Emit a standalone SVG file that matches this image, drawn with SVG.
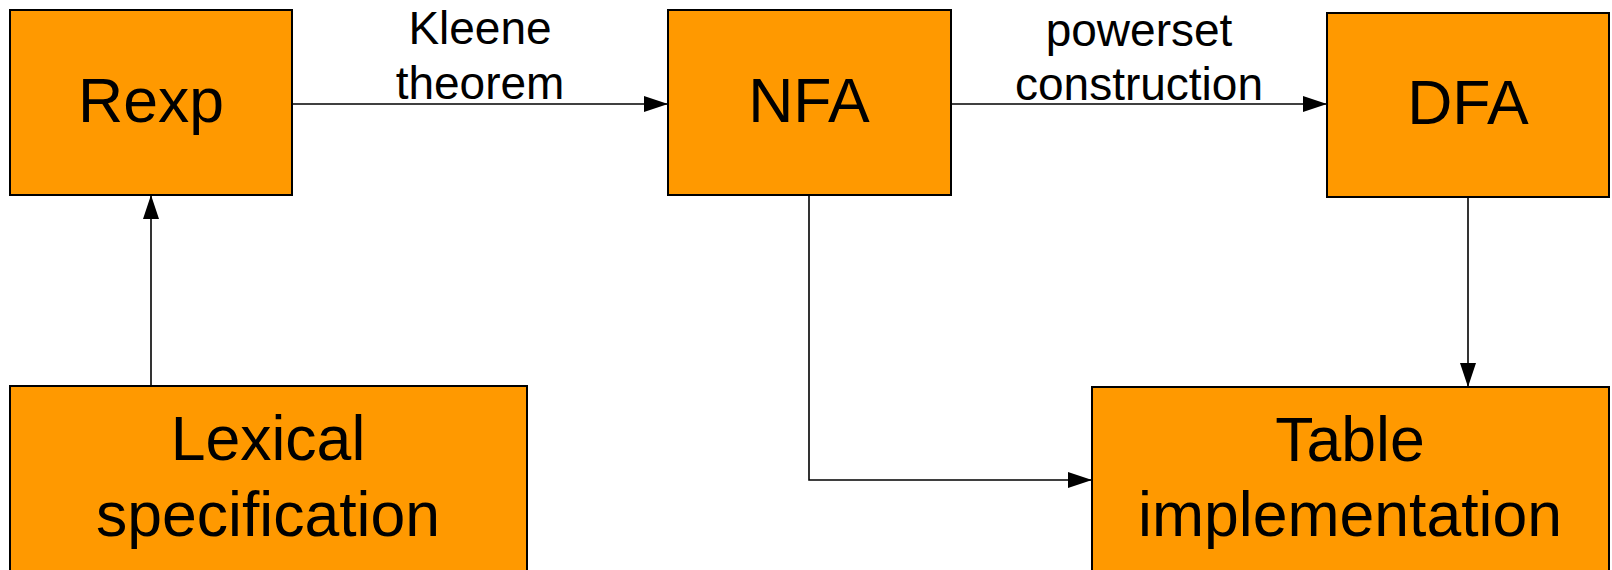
<svg xmlns="http://www.w3.org/2000/svg" width="1612" height="570" viewBox="0 0 1612 570">
  <style>
    .box { fill: #FF9900; stroke: #000000; stroke-width: 2; }
    .big { font-family: "Liberation Sans", Arial, sans-serif; font-size: 62.5px; fill: #000000; text-anchor: middle; }
    .lbl { font-family: "Liberation Sans", Arial, sans-serif; font-size: 46px; fill: #000000; text-anchor: middle; }
    .edge { fill: none; stroke: #000000; stroke-width: 1.6; }
  </style>
  <defs>
    <marker id="arrow" viewBox="0 0 24 16" refX="24" refY="8" markerWidth="24" markerHeight="16" markerUnits="userSpaceOnUse" orient="auto">
      <path d="M0,0 L24,8 L0,16 Z" fill="#000000"/>
    </marker>
  </defs>

  <rect width="1612" height="570" fill="#FFFFFF"/>

  <!-- connectors -->
  <g id="connectors">
    <path class="edge" d="M292,104 L668,104" marker-end="url(#arrow)"/>
    <path class="edge" d="M951,104 L1327,104" marker-end="url(#arrow)"/>
    <path class="edge" d="M151,386 L151,195" marker-end="url(#arrow)"/>
    <path class="edge" d="M809,195 L809,480 L1092,480" marker-end="url(#arrow)"/>
    <path class="edge" d="M1468,197 L1468,387" marker-end="url(#arrow)"/>
    <text class="lbl" x="480" y="44">Kleene</text>
    <text class="lbl" x="480" y="99">theorem</text>
    <text class="lbl" x="1139" y="46">powerset</text>
    <text class="lbl" x="1139" y="100">construction</text>
  </g>

  <!-- nodes -->
  <g id="rexp">
    <rect class="box" x="10" y="10" width="282" height="185"/>
    <text class="big" x="151" y="122">Rexp</text>
  </g>
  <g id="nfa">
    <rect class="box" x="668" y="10" width="283" height="185"/>
    <text class="big" x="809" y="122">NFA</text>
  </g>
  <g id="dfa">
    <rect class="box" x="1327" y="13" width="282" height="184"/>
    <text class="big" x="1468" y="124">DFA</text>
  </g>
  <g id="lexical">
    <rect class="box" x="10" y="386" width="517" height="190"/>
    <text class="big" x="268" y="460">Lexical</text>
    <text class="big" x="268" y="536">specification</text>
  </g>
  <g id="table">
    <rect class="box" x="1092" y="387" width="517" height="190"/>
    <text class="big" x="1350" y="461">Table</text>
    <text class="big" x="1350" y="536">implementation</text>
  </g>
</svg>
